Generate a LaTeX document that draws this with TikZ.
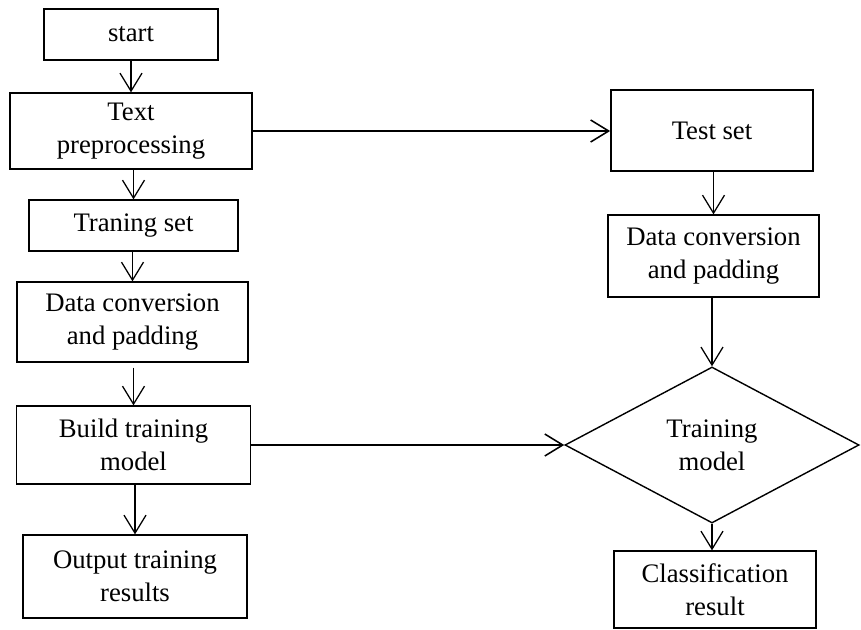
\documentclass[tikz,border=0pt]{standalone}
\usepackage{fontspec}
\setmainfont{Liberation Serif}
\usepackage{tikz}
\usetikzlibrary{arrows.meta,positioning,shapes.geometric}
\tikzset{%
	process/.style  = {draw, rectangle, line width=0.9pt, align=center, text centered, inner sep=2pt, font=\fontsize{19}{23.3}\selectfont},
	decision/.style = {draw, diamond, line width=1pt, align=center, aspect=1.9, inner sep=0pt, minimum width=7.35cm, minimum height=3.9cm, font=\fontsize{19}{23.3}\selectfont},
	arrow/.style    = {line width=0.9pt, -{Straight Barb[length=4.5mm,width=5.5mm]}},
}

\begin{document}
\begin{tikzpicture}[x=0.025cm,y=-0.025cm]
	\useasboundingbox (0,0) rectangle (861,630);
	% left column
	\node[process, minimum width=4.35cm, minimum height=1.275cm] (start) at (131,34.5) {start};
	\node[process, minimum width=6.05cm, minimum height=1.9cm] (prep) at (131,131) {Text\\preprocessing};
	\node[process, minimum width=5.225cm, minimum height=1.275cm] (train) at (133.5,225.5) {Traning set};
	\node[process, minimum width=5.775cm, minimum height=2cm] (conv) at (132.5,322) {Data conversion\\and padding};
	\node[process, minimum width=5.85cm, minimum height=1.95cm] (build) at (133.5,445) {Build training\\model};
	\node[process, minimum width=5.6cm, minimum height=2.075cm] (output) at (135,576.5) {Output training\\results};
	% right column
	\node[process, line width=1.2pt, minimum width=5.05cm, minimum height=2.025cm] (test) at (712,130.5) {Test set};
	\node[process, minimum width=5.275cm, minimum height=2.05cm] (tconv) at (713.5,256) {Data conversion\\and padding};
	\node[decision] (model) at (712,445) {Training\\model};
	\node[process, minimum width=5.05cm, minimum height=1.925cm] (result) at (715,589.5) {Classification\\result};
	
	\draw[arrow] (start.south) -- (prep.north);
	\draw[arrow] (prep.south -| train.north) -- (train.north);
	\draw[arrow] (train.south -| conv.north) -- (conv.north);
	\draw[arrow] ([yshift=-5*0.025cm]conv.south -| build.north) -- (build.north);
	\draw[arrow] (build.south -| output.north) -- (output.north);
	\draw[arrow, line width=1.1pt] (prep.east) -- (prep.east -| test.west);
	\draw[arrow, line width=1.1pt] (build.east) -- (model.west);
	\draw[arrow] (test.south -| tconv.north) -- (tconv.north);
	\draw[arrow] (tconv.south -| model.north) -- (model.north);
	\draw[arrow] (model.south) -- (model.south |- result.north);
\end{tikzpicture}
\end{document}
